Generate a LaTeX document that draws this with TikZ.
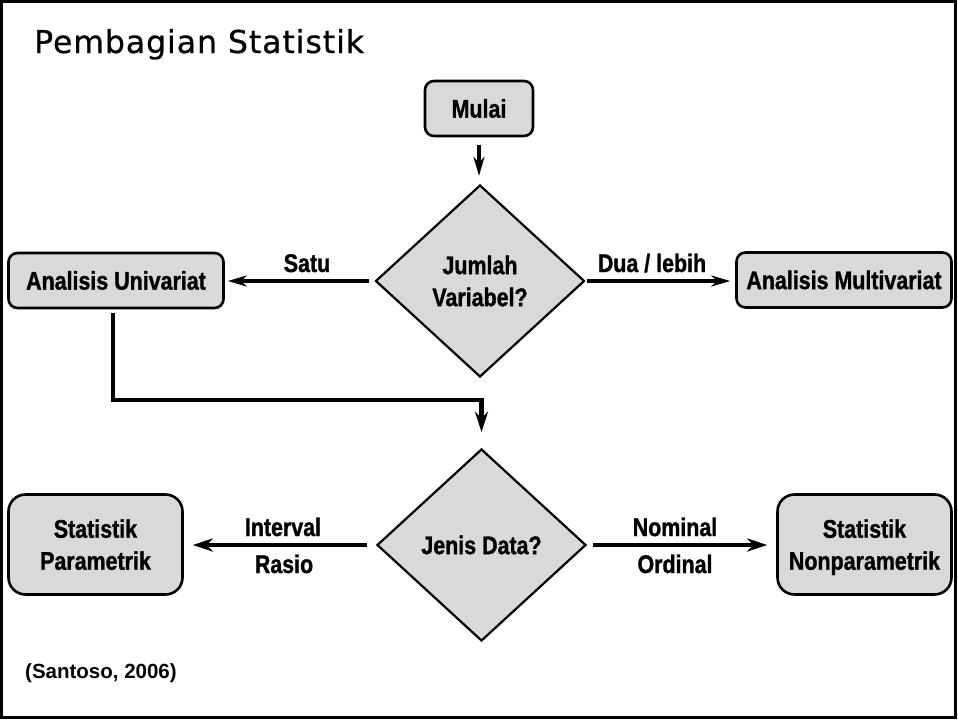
\documentclass[tikz,border=0pt]{standalone}
\usepackage{fontspec}
\setmainfont{Liberation Sans}
\newfontfamily\condfont[FakeStretch=0.84,FakeBold=1.2]{Liberation Sans}
\newfontfamily\titlefont[LetterSpace=3,FakeBold=0.6]{DejaVu Sans}
\usetikzlibrary{shapes.geometric,arrows.meta}
\definecolor{boxfill}{RGB}{217,217,217}

\tikzset{
  nodefont/.style={font=\condfont\bfseries\fontsize{25.5}{32}\selectfont},
  stepbox/.style={nodefont, draw, fill=boxfill, line width=2.6pt,
    rounded corners=9pt, minimum width=215pt, minimum height=55pt,
    inner sep=0pt, align=center},
  bigbox/.style={stepbox, rounded corners=17pt, minimum width=174pt,
    minimum height=100pt, text depth=0pt},
  decision/.style={nodefont, diamond, draw, fill=boxfill, line width=2.2pt,
    minimum width=209pt, minimum height=192pt, inner sep=0pt, align=center},
  lbl/.style={nodefont, inner sep=0pt, anchor=base},
  flowthin/.style={line width=3.3pt,
    -{Stealth[length=19pt,width=11pt,inset=6pt]}},
  flowthick/.style={line width=4.5pt,
    -{Stealth[length=20pt,width=13pt,inset=6pt]}},
}

\begin{document}
\begin{tikzpicture}[x=1pt,y=-1pt]
  % page and frame
  \useasboundingbox (0,0) rectangle (958,720);
  \fill[white] (0,0) rectangle (958,720);
  \draw[line width=2.7pt] (1.35,1.35) rectangle (955.6,717.6);

  % heading and source
  \node[inner sep=0pt, anchor=base west, font=\titlefont\fontsize{31.5}{36}\selectfont]
    (title) at (34,53) {Pembagian Statistik};
  \node[inner sep=0pt, anchor=base west, font=\bfseries\fontsize{20.5}{24}\selectfont]
    (source) at (25,678) {(Santoso, 2006)};

  % flowchart nodes
  \node[stepbox, minimum width=108pt] (mulai) at (479,108.5) {Mulai};
  \node[decision] (jumlah) at (480,281) {Jumlah\\Variabel?};
  \node[stepbox] (uni) at (116,280.5) {Analisis Univariat};
  \node[stepbox] (multi) at (844,280) {Analisis Multivariat};
  \node[decision] (jenis) at (481.5,545) {Jenis Data?};
  \node[bigbox] (param) at (95.5,544.5) {Statistik\\Parametrik};
  \node[bigbox] (nonparam) at (864.5,544.5) {Statistik\\Nonparametrik};

  % connectors
  \draw[flowthin, shorten <=8pt, shorten >=8pt]
    (mulai.south) -- (mulai.south |- jumlah.north);
  \draw[flowthin, shorten <=5pt, shorten >=3pt]
    (jumlah.west) -- (jumlah.west -| uni.east);
  \draw[flowthin, shorten <=1pt, shorten >=5pt]
    (jumlah.east) -- (jumlah.east -| multi.west);
  \coordinate (bend) at ([yshift=48pt]jenis.north);
  \draw[flowthick, shorten <=4pt, shorten >=16pt]
    ([xshift=-3pt]uni.south) |- (bend) -- (jenis.north);
  \draw[flowthick, shorten <=9pt, shorten >=9pt]
    (jenis.west) -- (jenis.west -| param.east);
  \draw[flowthick, shorten <=6pt, shorten >=9pt]
    (jenis.east) -- (jenis.east -| nonparam.west);

  % branch labels
  \node[lbl] (satu) at (307,272) {Satu};
  \node[lbl] (dua) at (652,272) {Dua / lebih};
  \node[lbl] (interval) at (283,536) {Interval};
  \node[lbl] (rasio) at (284,573) {Rasio};
  \node[lbl] (nominal) at (675,536) {Nominal};
  \node[lbl] (ordinal) at (675,573) {Ordinal};
\end{tikzpicture}
\end{document}
